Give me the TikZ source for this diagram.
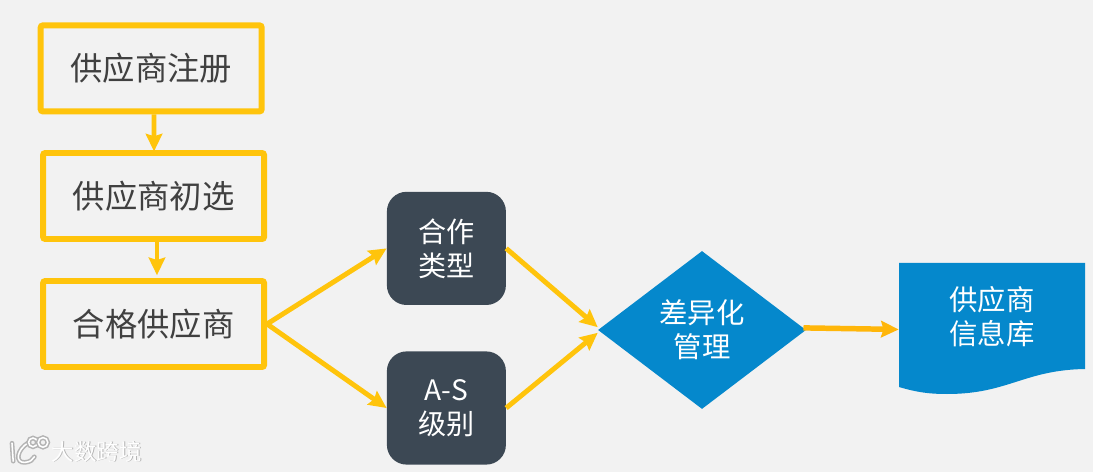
\documentclass[tikz,border=0pt]{standalone}
\usepackage{fontspec}
\setmainfont{Noto Sans CJK SC}
\usetikzlibrary{arrows.meta,positioning,calc,shapes.geometric}
\definecolor{SupBack}{HTML}{F2F2F2}
\definecolor{SupYellow}{HTML}{FFC40C}
\definecolor{SupOrange}{HTML}{FFB60A}
\definecolor{SupDark}{HTML}{3C4854}
\definecolor{SupBlue}{HTML}{0588CC}
\definecolor{SupText}{HTML}{404040}
\definecolor{SupShadow}{HTML}{B4B4B4}
\tikzset{
  sup/box/.style={
    draw=SupYellow,
    line width=4.2pt,
    rounded corners=1.5pt,
    fill=SupBack,
    align=center,
    text=SupText,
    minimum width=5.525cm,
    minimum height=2.15cm,
    inner sep=0pt,
    font=\fontsize{23}{27}\selectfont
  },
  sup/dark/.style={
    fill=SupDark,
    rounded corners=14pt,
    align=center,
    text=white,
    minimum width=2.975cm,
    minimum height=2.83cm,
    inner sep=0pt,
    font=\fontsize{20}{24.1}\selectfont
  },
  sup/decision/.style={
    diamond,
    fill=SupBlue,
    align=center,
    text=white,
    minimum width=5.2cm,
    minimum height=3.95cm,
    inner sep=0pt,
    font=\fontsize{20.2}{24.1}\selectfont
  },
  sup/store/.style={
    align=center,
    text=white,
    minimum width=4.65cm,
    minimum height=2.7cm,
    inner sep=0pt,
    font=\fontsize{20.2}{24.1}\selectfont
  },
  sup/arrow/.style={-{Stealth[length=4.4mm,width=4.1mm,inset=0.6mm]}, line width=3.5pt, draw=SupYellow},
  sup/logo/.style={line width=1.1pt, draw=SupShadow, double=white, double distance=1.1pt, line cap=round},
  sup/mark/.style={font=\fontsize{16}{18}\selectfont, inner sep=0pt}
}
\begin{document}
\begin{tikzpicture}[x=1cm,y=1cm]
  \useasboundingbox[fill=SupBack] (0,0) rectangle (27.325,11.8);
  \node[sup/box] (register) at (3.78,10.09) {供应商注册};
  \node[sup/box] (prelim) at (3.84,6.9) {供应商初选};
  \node[sup/box] (qualified) at (3.84,3.7) {合格供应商};
  \node[sup/dark] (type) at (11.16,5.59) {合作\\类型};
  \node[sup/dark] (grade) at (11.16,1.6) {A-S\\级别};
  \node[sup/decision] (manage) at (17.55,3.55) {差异化\\管理};
  % document shape with a wavy lower edge
  \fill[SupBlue] (22.475,5.225) -- (27.125,5.225) -- (27.125,2.575)
    .. controls (25.6,2.55) and (25.2,1.95) .. (23.675,1.95)
    .. controls (23.2,1.95) and (22.9,2.0) .. (22.475,2.125) -- cycle;
  \node[sup/store] (library) at (24.8,3.88) {供应商\\信息库};
  \draw[sup/arrow] ([xshift=2pt]register.south) -- ([xshift=.3pt,yshift=-1pt]prelim.north);
  \draw[sup/arrow] ([xshift=2.4pt]prelim.south) -- ([xshift=2.4pt,yshift=2pt]qualified.north);
  \draw[sup/arrow] (qualified.east) -- (type.west);
  \draw[sup/arrow] (qualified.east) -- (grade.west);
  \draw[sup/arrow] (type.east) -- ([yshift=2pt]manage.west);
  \draw[sup/arrow] (grade.east) -- ([yshift=-2pt]manage.west);
  \draw[sup/arrow,draw=SupOrange,line width=3.9pt] ([shift={(-2pt,1.5pt)}]manage.east) -- ([yshift=-9pt]library.west);
  % watermark
  \draw[sup/logo] (0.3,0.72) -- (0.33,0.27);
  \draw[sup/logo] (0.72,0.74) .. controls (0.4,0.55) and (0.38,0.22) .. (0.62,0.24) .. controls (0.75,0.25) and (0.82,0.3) .. (0.86,0.38);
  \draw[sup/logo] (0.825,0.74) circle (0.11);
  \draw[sup/logo] (1.075,0.74) circle (0.12);
  \node[sup/mark,text=SupShadow] (markshadow) at (2.44,0.49) {大数跨境};
  \node[sup/mark,text=white] (mark) at (2.42,0.51) {大数跨境};
\end{tikzpicture}
\end{document}
